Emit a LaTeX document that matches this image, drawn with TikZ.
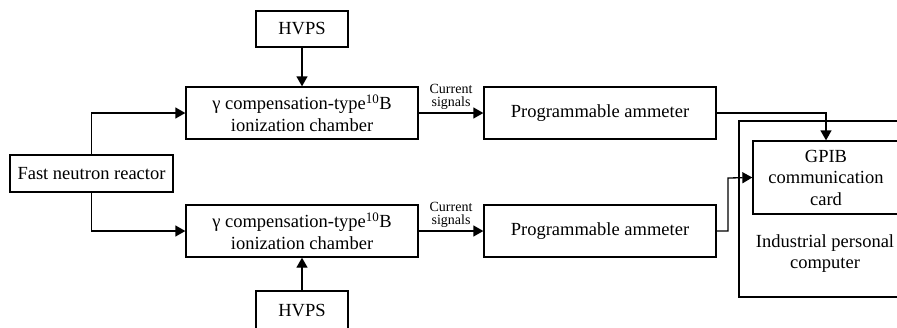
\documentclass[tikz,border=0pt]{standalone}
\usepackage{fontspec}
\setmainfont{Liberation Serif}
\usetikzlibrary{arrows.meta}
\begin{document}
\begin{tikzpicture}[x=1pt,y=-1pt,
  box/.style={draw,line width=1.3pt,align=center,inner sep=0pt,font=\fontsize{18.5}{21.5}\selectfont},
  conn/.style={line width=1.3pt,-{Triangle[length=10pt,width=11pt]}},
  small/.style={align=center,inner sep=0pt,font=\fontsize{14}{13}\selectfont}]
\useasboundingbox (0,0) rectangle (897,327);
\node[box,minimum width=92pt,minimum height=36pt] (hv1) at (302,29) {HVPS};
\node[box,minimum width=232pt,minimum height=52pt] (ch1) at (302,113) {γ compensation-type\textsuperscript{10}B\\ionization chamber};
\node[box,minimum width=163pt,minimum height=37pt] (re) at (91.5,173.5) {Fast neutron reactor};
\node[box,minimum width=232pt,minimum height=52pt] (ch2) at (302,231) {γ compensation-type\textsuperscript{10}B\\ionization chamber};
\node[box,minimum width=92pt,minimum height=40pt] (hv2) at (302,311) {HVPS};
\node[box,minimum width=232pt,minimum height=52pt] (am1) at (600,113) {Programmable ammeter};
\node[box,minimum width=232pt,minimum height=52pt] (am2) at (600,231) {Programmable ammeter};
\node[draw,line width=1.3pt,minimum width=172pt,minimum height=176pt,inner sep=0pt] (pc) at (825,209) {};
\node[box,minimum width=146pt,minimum height=73pt] (gp) at (826,177.5) {GPIB\\communication\\card};
\node[align=center,inner sep=0pt,font=\fontsize{18.5}{21.5}\selectfont] (pct) at (825,253.5) {Industrial personal\\computer};
\draw[conn] (hv1) -- (ch1);
\draw[conn] (hv2) -- (ch2);
\draw[conn] (re.north) |- (ch1.west);
\draw[conn] (re.south) |- (ch2.west);
\draw[conn] (ch1) -- (am1) node[small,midway,above=3pt] (l1) {Current\\signals};
\draw[conn] (ch2) -- (am2) node[small,midway,above=3pt] (l2) {Current\\signals};
\draw[conn] (am1.east) -| (gp.north);
\coordinate (k) at (728,178);
\draw[conn] (am2.east) -| (k) -- (gp.west);
\end{tikzpicture}
\end{document}
